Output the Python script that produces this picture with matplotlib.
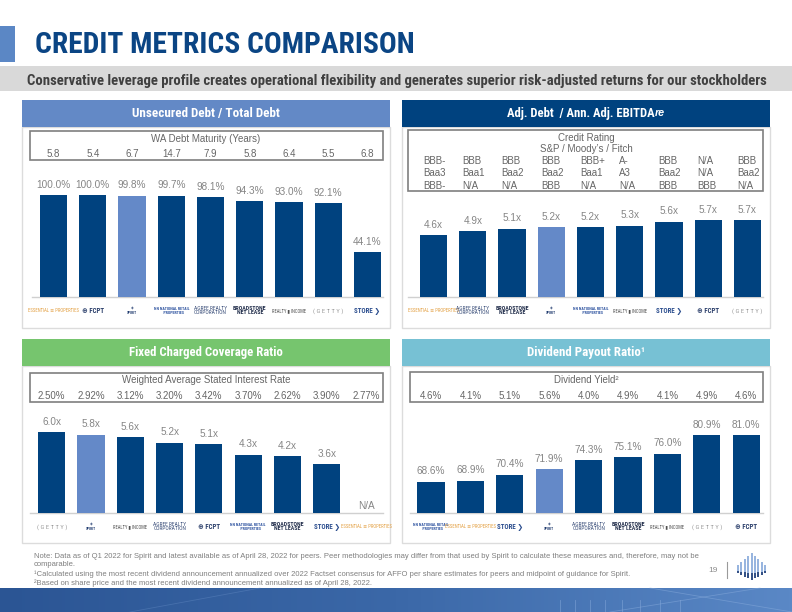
import matplotlib
matplotlib.use("Agg")
import matplotlib.pyplot as plt
from matplotlib import font_manager as fm
from matplotlib import transforms as mtrans
from matplotlib.patches import Rectangle
from matplotlib.colors import LinearSegmentedColormap
import numpy as np

# ---------------- data ----------------
companies_debt = ["Essential Properties", "FCPT", "Spirit", "NNN", "Agree",
                  "Broadstone", "Realty Income", "Getty", "STORE"]
unsecured_pct = [100.0, 100.0, 99.8, 99.7, 98.1, 94.3, 93.0, 92.1, 44.1]
wa_maturity = [5.8, 5.4, 6.7, 14.7, 7.9, 5.8, 6.4, 5.5, 6.8]

companies_lev = ["Essential Properties", "Agree", "Broadstone", "Spirit", "NNN",
                 "Realty Income", "STORE", "FCPT", "Getty"]
leverage = [4.6, 4.9, 5.1, 5.2, 5.2, 5.3, 5.6, 5.7, 5.7]
rating_sp = ["BBB-", "BBB", "BBB", "BBB", "BBB+", "A-", "BBB", "N/A", "BBB"]
rating_moodys = ["Baa3", "Baa1", "Baa2", "Baa2", "Baa1", "A3", "Baa2", "N/A", "Baa2"]
rating_fitch = ["BBB-", "N/A", "N/A", "BBB", "N/A", "N/A", "BBB", "BBB", "N/A"]

companies_fcc = ["Getty", "Spirit", "Realty Income", "Agree", "FCPT", "NNN",
                 "Broadstone", "STORE", "Essential Properties"]
fcc_ratio = [6.0, 5.8, 5.6, 5.2, 5.1, 4.3, 4.2, 3.6, np.nan]
interest_rate = [2.50, 2.92, 3.12, 3.20, 3.42, 3.70, 2.62, 3.90, 2.77]

companies_div = ["NNN", "Essential Properties", "STORE", "Spirit", "Agree",
                 "Broadstone", "Realty Income", "Getty", "FCPT"]
payout_ratio = [68.6, 68.9, 70.4, 71.9, 74.3, 75.1, 76.0, 80.9, 81.0]
dividend_yield = [4.6, 4.1, 5.1, 5.6, 4.0, 4.9, 4.1, 4.9, 4.6]

# ---------------- styles ----------------
NAVY = "#00427f"
SPIRIT = "#6489c8"
LBL = "#858585"
TBL = "#666666"
W, H = 792, 612

avail = {f.name for f in fm.fontManager.ttflist}
def pick(*names):
    for n in names:
        if n in avail:
            return n
    return "DejaVu Sans"
NARROW = pick("Liberation Sans Narrow", "Roboto Condensed", "DejaVu Sans")
NUM = pick("Liberation Sans", "Arimo", "DejaVu Sans")
FAM_N = [NARROW, "DejaVu Sans"]
FAM_D = [NUM, "DejaVu Sans"]

fig = plt.figure(figsize=(W / 100, H / 100), dpi=100)
bg = fig.add_axes([0, 0, 1, 1])
bg.set_xlim(0, W)
bg.set_ylim(H, 0)
bg.axis("off")
renderer = fig.canvas.get_renderer()


def fit(ax, x, y, s, width, size0=10, transform=None, **kw):
    if transform is None:
        transform = ax.transData
    t = ax.text(x, y, s, fontsize=size0, transform=transform, **kw)
    w = t.get_window_extent(renderer).width
    t.set_fontsize(size0 * width / w)
    return t


def rect(x0, y0, x1, y1, **kw):
    bg.add_patch(Rectangle((x0, y0), x1 - x0, y1 - y0, **kw))


# ---------------- page header ----------------
rect(0, 26, 15, 62, color="#5b87c5", lw=0)
fit(bg, 35, 53.3, "CREDIT METRICS COMPARISON", 378, color="#0b4584",
    fontweight="bold", family=FAM_N, va="baseline")
rect(0, 66, W, 90.7, color="#d9d9d9", lw=0)
fit(bg, 27, 85, "Conservative leverage profile creates operational flexibility and "
    "generates superior risk-adjusted returns for our stockholders", 741,
    color="#404040", fontweight="bold", family=FAM_N, va="baseline")

# ---------------- panels ----------------
panels = [
    dict(x0=22, x1=390, ht=100, hb=127, bot=328, col="#6389c6"),
    dict(x0=402, x1=770, ht=100, hb=127, bot=328, col=NAVY),
    dict(x0=22, x1=390, ht=339, hb=366, bot=543, col="#76c56e"),
    dict(x0=402, x1=770, ht=339, hb=366, bot=543, col="#77c1d4"),
]
for p in panels:
    rect(p["x0"], p["hb"], p["x1"], p["bot"], facecolor="white",
         edgecolor="#dcdcdc", lw=1)
    rect(p["x0"], p["ht"], p["x1"], p["hb"], color=p["col"], lw=0)

fit(bg, 206, 116.5, "Unsecured Debt / Total Debt", 148, color="white",
    fontweight="bold", family=FAM_N, ha="center", va="baseline")
fit(bg, 206, 356, "Fixed Charged Coverage Ratio", 153, color="white",
    fontweight="bold", family=FAM_N, ha="center", va="baseline")
fit(bg, 586, 356, "Dividend Payout Ratio\u00b9", 118, color="white",
    fontweight="bold", family=FAM_N, ha="center", va="baseline")
# header with italic suffix
t1 = bg.text(0, 116.5, "Adj. Debt  / Ann. Adj. EBITDA", fontsize=10, color="white",
             fontweight="bold", family=FAM_N, va="baseline")
t2 = bg.text(0, 116.5, "re", fontsize=10, color="white", fontweight="bold",
             fontstyle="italic", family=FAM_D, va="baseline")
w1 = t1.get_window_extent(renderer).width
w2 = t2.get_window_extent(renderer).width * 0.85
k = 158 / (w1 + w2)
t1.set_fontsize(10 * k)
t2.set_fontsize(10 * k * 0.85)
t1.set_x(586 - 79)
t2.set_x(586 - 79 + w1 * k + 0.3)

# table boxes
boxes = [(30, 130.7, 383, 160), (408, 130, 763, 190.7),
         (30, 373, 383, 402), (410, 372, 763, 402)]
for (a, b, c, d) in boxes:
    rect(a, b, c, d, facecolor="white", edgecolor="#7f7f7f", lw=1.2)

# ---------------- logos (text stand-ins) ----------------
LOGOS = {
    "Essential Properties": ("ESSENTIAL \u2261 PROPERTIES", "#e3a043", "normal", 52),
    "FCPT": ("\u2295 FCPT", "#2b3f6b", "bold", 22),
    "Spirit": ("\u25c8\nSPIRIT", "#1f3a6e", "bold", 10),
    "NNN": ("NN NATIONAL RETAIL\n     PROPERTIES", "#2f54a0", "bold", 36),
    "Agree": ("AGREE REALTY\nCORPORATION", "#3b4f7a", "normal", 33),
    "Broadstone": ("BROADSTONE\nNET LEASE", "#24304d", "bold", 33),
    "Realty Income": ("REALTY \u25ae INCOME", "#505050", "normal", 34),
    "Getty": ("( G E T T Y )", "#9a9a9a", "normal", 30),
    "STORE": ("STORE \u276f", "#2d4f8f", "bold", 26),
}


def bar_panel(c0, s, base_y, h_px, ymin, scale, companies, values, fmt,
              tbl_x0, tbl_x1, logo_y):
    ymax = ymin + h_px / scale
    left = c0 - s / 2
    ax = fig.add_axes([left / W, 1 - base_y / H, 9 * s / W, h_px / H])
    ax.set_xlim(-0.5, 8.5)
    ax.set_ylim(ymin, ymax)
    ax.axis("off")
    bg.plot([tbl_x0, tbl_x1], [base_y, base_y], color="#d0d0d0", lw=1)
    x = np.arange(len(values))
    cols = [SPIRIT if c == "Spirit" else NAVY for c in companies]
    vals = [0 if np.isnan(v) else v for v in values]
    ax.bar(x, vals, width=0.69, color=cols, linewidth=0)
    for i, v in enumerate(values):
        if np.isnan(v):
            ax.annotate("N/A", (i, ymin), xytext=(0, 6.5), textcoords="offset pixels",
                        ha="center", va="center", fontsize=7.2, color=LBL, family=FAM_D)
        else:
            ax.annotate(fmt(v), (i, v), xytext=(0, 10.5), textcoords="offset pixels",
                        ha="center", va="center", fontsize=7.2, color=LBL, family=FAM_D)
    tr = mtrans.blended_transform_factory(ax.transData, bg.transData)
    for i, c in enumerate(companies):
        txt, colr, wt, wd = LOGOS[c]
        fit(bg, i, logo_y, txt, wd, transform=tr, color=colr, fontweight=wt,
            family=FAM_N, ha="center", va="center", linespacing=0.9,
            multialignment="center")
    return ax, tr


ax1, tr1 = bar_panel(53.5, 39.25, 296.7, 140, 0, 1.013, companies_debt,
                     unsecured_pct, lambda v: f"{v:.1f}%", 32, 383, 310.7)
ax2, tr2 = bar_panel(433.5, 39.25, 296.7, 100, 0, 13.37, companies_lev,
                     leverage, lambda v: f"{v:.1f}x", 408, 763, 310.7)
ax3, tr3 = bar_panel(51.7, 39.3, 512.7, 120, 0, 13.45, companies_fcc,
                     fcc_ratio, lambda v: f"{v:.1f}x", 30, 383, 526.7)
ax4, tr4 = bar_panel(431, 39.4, 513.3, 100, 60.2, 3.764, companies_div,
                     payout_ratio, lambda v: f"{v:.1f}%", 410, 763, 526.7)

# ---------------- tables ----------------
TS = 7.0
bg.text(206, 139, "WA Debt Maturity (Years)", ha="center", va="center",
        fontsize=TS, color=TBL, family=FAM_D)
for i, v in enumerate(wa_maturity):
    bg.text(i, 154, f"{v:.1f}", transform=tr1, ha="center", va="center",
            fontsize=TS, color=TBL, family=FAM_D)

bg.text(586, 137.7, "Credit Rating", ha="center", va="center",
        fontsize=TS, color=TBL, family=FAM_D)
bg.text(586, 149.3, "S&P / Moody\u2019s / Fitch", ha="center", va="center",
        fontsize=TS, color=TBL, family=FAM_D)
for row, yy in ((rating_sp, 161), (rating_moodys, 173.3), (rating_fitch, 185.7)):
    for i, v in enumerate(row):
        bg.text(i - 10.5 / 39.25, yy, v, transform=tr2, ha="left", va="center",
                fontsize=TS, color=TBL, family=FAM_D)

bg.text(206, 380, "Weighted Average Stated Interest Rate", ha="center", va="center",
        fontsize=TS, color=TBL, family=FAM_D)
for i, v in enumerate(interest_rate):
    bg.text(i, 396, f"{v:.2f}%", transform=tr3, ha="center", va="center",
            fontsize=TS, color=TBL, family=FAM_D)

bg.text(586, 380, "Dividend Yield\u00b2", ha="center", va="center",
        fontsize=TS, color=TBL, family=FAM_D)
for i, v in enumerate(dividend_yield):
    bg.text(i, 396, f"{v:.1f}%", transform=tr4, ha="center", va="center",
            fontsize=TS, color=TBL, family=FAM_D)

# ---------------- footer ----------------
notes = [
    "Note: Data as of Q1 2022 for Spirit and latest available as of April 28, 2022 for peers. "
    "Peer methodologies may differ from that used by Spirit to calculate these measures and, "
    "therefore, may not be",
    "comparable.",
    "\u00b9Calculated using the most recent dividend announcement annualized over 2022 Factset "
    "consensus for AFFO per share estimates for peers and midpoint of guidance for Spirit.",
    "\u00b2Based on share price and the most recent dividend announcement annualized as of "
    "April 28, 2022.",
]
t0 = fit(bg, 34, 557.5, notes[0], 665, color="#7f7f7f", family=FAM_D, va="baseline")
fs = min(t0.get_fontsize(), 5.6)
t0.set_fontsize(fs)
for s, yy in zip(notes[1:], (566.5, 575.8, 584.8)):
    bg.text(34, yy, s, fontsize=fs, color="#7f7f7f", family=FAM_D, va="baseline")

bg.text(713, 570, "19", ha="center", va="center", fontsize=6, color="#8c8c8c",
        family=FAM_D)
bg.plot([727, 727], [562, 578], color="#9a9a9a", lw=0.8)
# small corporate mark
for i in range(9):
    d = 4 - abs(i - 4)
    xx = 738 + i * 3.4
    top = 565 - 3.0 * d
    mid = 571 + 0.6 * d
    bot = 573 + 1.8 * d
    bg.plot([xx, xx], [top, mid], color="#8eaedc", lw=1.3, solid_capstyle="butt")
    bg.plot([xx, xx], [mid, bot], color="#1f3f7a", lw=1.3, solid_capstyle="butt")

# bottom band
cmap = LinearSegmentedColormap.from_list("band", ["#2b5594", "#3b68a8", "#5a88c6"])
grad = np.linspace(0, 1, 256).reshape(1, -1)
bg.imshow(grad, cmap=cmap, extent=(0, W, 612, 588), aspect="auto", zorder=0)
for xs in (560, 575, 590, 605, 622, 640, 660, 680):
    bg.plot([xs, xs], [600, 612], color="#8fb1e0", lw=0.6, alpha=0.5)
bg.plot([610, 760], [612, 588], color="#8fb1e0", lw=0.6, alpha=0.45)
bg.plot([650, 792], [588, 612], color="#8fb1e0", lw=0.6, alpha=0.45)
bg.plot([130, 260], [612, 588], color="#6f95cc", lw=0.6, alpha=0.35)
bg.set_xlim(0, W)
bg.set_ylim(H, 0)

fig.savefig("out.png", dpi=100)
